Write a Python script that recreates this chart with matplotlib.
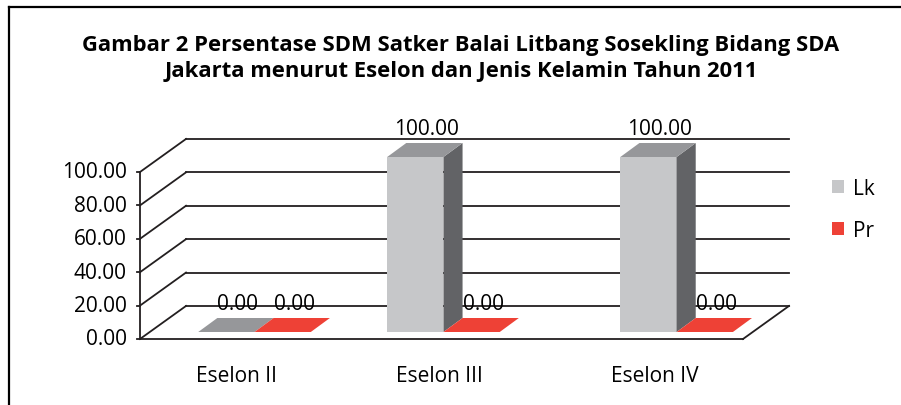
import matplotlib.pyplot as plt
from matplotlib.patches import Polygon, Patch
from matplotlib.lines import Line2D

# data
categories = ["Eselon II", "Eselon III", "Eselon IV"]
series = ["Lk", "Pr"]
lk_values = [0.00, 100.00, 100.00]
pr_values = [0.00, 0.00, 0.00]
y_ticks = [0, 20, 40, 60, 80, 100]

# colours (front, side, top)
colors = {
    "Lk": ("#C6C7C9", "#626366", "#96979A"),
    "Pr": ("#EE4136", "#B02A22", "#EE4136"),
}
line_col = "#231F20"

plt.rcParams['font.family'] = ['Open Sans', 'DejaVu Sans']

W, H = 901, 406
fig = plt.figure(figsize=(W / 100, H / 100), dpi=100)

def px_box(x0, y_bottom, x1, y_top):
    # pixel box (y from top) -> figure fraction rect
    return [x0 / W, (H - y_bottom) / H, (x1 - x0) / W, (y_bottom - y_top) / H]

# axes for the walls / grid
ax = fig.add_axes(px_box(140, 340, 743, 173))
ax.set_xlim(-0.5, 2.5)
ax.set_ylim(0, 100)
ax.axis("off")

# axes for the bars (sit a little deeper in the box)
axb = fig.add_axes(px_box(150, 333, 753, 158))
axb.set_xlim(-0.5, 2.5)
axb.set_ylim(0, 100)
axb.axis("off")

# depth of the box (x units, value units)
wall_dx, wall_dy = 0.229, 19.8
bar_dx, bar_dy = 0.095, 8.0
bar_w = 0.28
group_x = [0.02, 0.96, 2.12]
label_x = [-0.02, 0.99, 2.06]

lw = 1.3
# front vertical axis
ax.plot([-0.5, -0.5], [0, 100], color=line_col, lw=lw, clip_on=False)
for t in y_ticks:
    ax.plot([-0.5, -0.5 + wall_dx], [t, t + wall_dy], color=line_col, lw=lw, clip_on=False)
    ax.plot([-0.5 + wall_dx, 2.5 + wall_dx], [t + wall_dy, t + wall_dy],
            color=line_col, lw=lw, clip_on=False)
    ax.plot([-0.515, -0.5], [t, t], color=line_col, lw=lw, clip_on=False)
    ax.text(-0.565, t, "%.2f" % t, ha="right", va="center", fontsize=15)
# floor
ax.plot([-0.5, 2.5], [0, 0], color=line_col, lw=lw, clip_on=False)
ax.plot([2.5, 2.5 + wall_dx], [0, wall_dy], color=line_col, lw=lw, clip_on=False)

for x, name in zip(label_x, categories):
    ax.text(x, -22, name, ha="center", va="center", fontsize=15)

# 3d bars
for i, gx in enumerate(group_x):
    for j, (s, vals) in enumerate([("Lk", lk_values), ("Pr", pr_values)]):
        v = vals[i]
        x0 = gx - bar_w + j * bar_w
        x1 = x0 + bar_w
        front, side, top = colors[s]
        axb.bar(x0, v, bar_w, align="edge", color=front, linewidth=0, zorder=2)
        axb.add_patch(Polygon([(x1, 0), (x1 + bar_dx, bar_dy), (x1 + bar_dx, v + bar_dy), (x1, v)],
                              closed=True, facecolor=side, linewidth=0, zorder=2, clip_on=False))
        axb.add_patch(Polygon([(x0, v), (x1, v), (x1 + bar_dx, v + bar_dy), (x0 + bar_dx, v + bar_dy)],
                              closed=True, facecolor=top, linewidth=0, zorder=3, clip_on=False))
        axb.text((x0 + x1) / 2 + bar_dx * 0.6, v + bar_dy + 8.5, "%.2f" % v,
                 ha="center", va="center", fontsize=15, clip_on=False)

# title
fig.text(461 / W, 1 - 45 / H, "Gambar 2 Persentase SDM Satker Balai Litbang Sosekling Bidang SDA",
         ha="center", va="center", fontsize=15.8, fontweight="bold")
fig.text(461 / W, 1 - 72 / H, "Jakarta menurut Eselon dan Jenis Kelamin Tahun 2011",
         ha="center", va="center", fontsize=15.8, fontweight="bold")

# legend
handles = [Patch(facecolor=colors[s][0], edgecolor="none") for s in series]
fig.legend(handles, series, loc="upper left", bbox_to_anchor=(813 / W, 1 - 160 / H),
           frameon=False, fontsize=15, handlelength=0.6, handleheight=0.6,
           handletextpad=0.4, labelspacing=1.0)

# frame lines (left and top)
fig.add_artist(Line2D([9 / W, 9 / W], [0, 1 - 8 / H], color="black", lw=1.6))
fig.add_artist(Line2D([9 / W, 1], [1 - 8 / H, 1 - 8 / H], color="black", lw=1.6))

fig.savefig("out.png", dpi=100)
